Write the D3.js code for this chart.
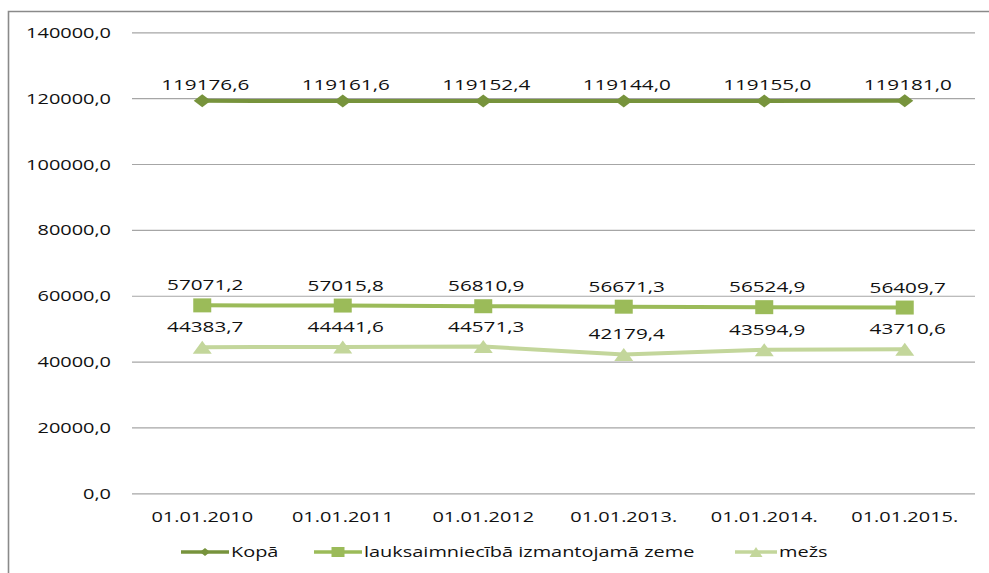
<!DOCTYPE html>
<html>
<head>
<meta charset="utf-8">
<script src="https://cdn.jsdelivr.net/npm/d3@7"></script>
<style>
  html, body { margin: 0; padding: 0; background: #fff; }
  svg { display: block; }
  text { font-family: "Open Sans", sans-serif; fill: #111; }
</style>
</head>
<body>
<div id="chart"></div>
<script>
// ---- data ----
const categories = ["01.01.2010", "01.01.2011", "01.01.2012", "01.01.2013.", "01.01.2014.", "01.01.2015."];
const seriesNames = ["Kopā", "lauksaimniecībā izmantojamā zeme", "mežs"];
const kopa = [119176.6, 119161.6, 119152.4, 119144.0, 119155.0, 119181.0];
const lauks = [57071.2, 57015.8, 56810.9, 56671.3, 56524.9, 56409.7];
const mezs = [44383.7, 44441.6, 44571.3, 42179.4, 43594.9, 43710.6];
const yTicks = [0, 20000, 40000, 60000, 80000, 100000, 120000, 140000];

// ---- layout / style ----
const W = 989, H = 573;
const plot = { left: 132, right: 975, top: 32.3, bottom: 493.3 };
const sx = 1.33;          // horizontal stretch of text (as in reference)
const sxLabel = 1.38;
const fontSize = 15;
const colors = ["#77933C", "#9BBB59", "#C3D69B"];
const markers = ["diamond", "square", "triangle"];

const locale = d3.formatLocale({ decimal: ",", thousands: "", grouping: [3], currency: ["", ""] });
const fmt = locale.format(".1f");

const svg = d3.select("#chart").append("svg").attr("width", W).attr("height", H);

// outer border (left & top visible)
svg.append("path")
  .attr("d", `M8.5,${H} L8.5,11.5 L${W},11.5`)
  .attr("fill", "none").attr("stroke", "#8a8a8a").attr("stroke-width", 1.6);

const x = d3.scaleBand().domain(categories).range([plot.left, plot.right]);
const y = d3.scaleLinear().domain([0, 140000]).range([plot.bottom, plot.top]);
const cx = d => x(d) + x.bandwidth() / 2;

// y axis with gridlines
const yAxis = d3.axisLeft(y).tickValues(yTicks).tickFormat(fmt)
  .tickSize(-(plot.right - plot.left)).tickPadding(0);
const gy = svg.append("g").attr("transform", `translate(${plot.left},0)`).call(yAxis);
gy.select(".domain").remove();
gy.selectAll(".tick line").attr("stroke", "#a6a6a6").attr("stroke-width", 1.2);
gy.selectAll(".tick text")
  .attr("x", null).attr("dy", null)
  .attr("text-anchor", "end")
  .attr("transform", `translate(-21,5) scale(${sx},1)`)
  .style("font-size", fontSize + "px").style("font-family", "Open Sans").attr("fill", "#111");

// x axis labels
const xAxis = d3.axisBottom(x).tickSize(0).tickPadding(0);
const gx = svg.append("g").attr("transform", `translate(0,${plot.bottom})`).call(xAxis);
gx.select(".domain").remove();
gx.selectAll(".tick text")
  .attr("y", null).attr("dy", null)
  .attr("text-anchor", "middle")
  .attr("transform", `translate(0,29) scale(${sx},1)`)
  .style("font-size", fontSize + "px").style("font-family", "Open Sans").attr("fill", "#111");

// marker shapes
function markerPath(type, w, h) {
  if (type === "diamond") return `M0,${-h/2} L${w/2},0 L0,${h/2} L${-w/2},0Z`;
  if (type === "square") return `M${-w/2},${-h/2} H${w/2} V${h/2} H${-w/2}Z`;
  return `M0,${-h/2} L${w/2},${h/2} L${-w/2},${h/2}Z`;
}
const markerSize = { diamond: [17, 13], square: [18, 14], triangle: [19, 13] };
const labelOffset = { diamond: -11, square: -15, triangle: -15 };

const allSeries = [kopa, lauks, mezs];
const line = d3.line().x((d, i) => cx(categories[i])).y(d => y(d));

// draw in reverse so Kopā is on top
allSeries.map((vals, si) => ({ vals, si })).reverse().forEach(({ vals, si }) => {
  const g = svg.append("g");
  g.append("path").datum(vals)
    .attr("d", line).attr("fill", "none")
    .attr("stroke", colors[si]).attr("stroke-width", 4).attr("stroke-linejoin", "round");
  const [mw, mh] = markerSize[markers[si]];
  g.selectAll("path.m").data(vals).join("path").attr("class", "m")
    .attr("d", markerPath(markers[si], mw, mh))
    .attr("transform", (d, i) => `translate(${cx(categories[i])},${y(d)})`)
    .attr("fill", colors[si]);
  g.selectAll("text").data(vals).join("text")
    .attr("text-anchor", "middle")
    .attr("transform", (d, i) => `translate(${cx(categories[i]) + 3},${y(d) + labelOffset[markers[si]]}) scale(${sxLabel},1)`)
    .style("font-size", fontSize + "px")
    .text(d => fmt(d));
});

// legend
const legendY = 552;
const legendStarts = [181, 314, 735];
const legendLineLen = [48, 48, 42];
const legendMarker = { diamond: [10, 8], square: [13, 10], triangle: [13, 10] };
seriesNames.forEach((name, si) => {
  const g = svg.append("g").attr("transform", `translate(${legendStarts[si]},${legendY})`);
  g.append("line").attr("x1", 0).attr("x2", legendLineLen[si]).attr("y1", 0).attr("y2", 0)
    .attr("stroke", colors[si]).attr("stroke-width", 3.5);
  const [mw, mh] = legendMarker[markers[si]];
  g.append("path").attr("d", markerPath(markers[si], mw, mh))
    .attr("transform", `translate(${legendLineLen[si] / 2},0)`).attr("fill", colors[si]);
  g.append("text")
    .attr("transform", `translate(${legendLineLen[si] + 2},5) scale(${sx},1)`)
    .style("font-size", fontSize + "px")
    .text(name);
});
</script>
</body>
</html>
